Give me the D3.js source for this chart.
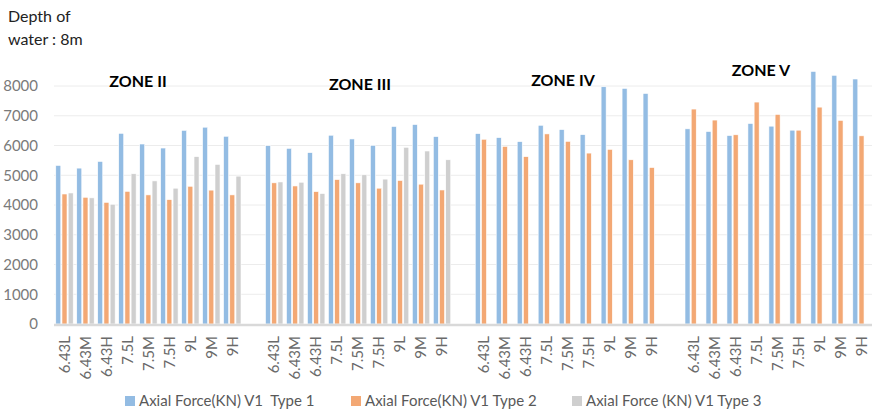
<!DOCTYPE html>
<html>
<head>
<meta charset="utf-8">
<script src="https://cdn.jsdelivr.net/npm/d3@7"></script>
<style>
  html, body { margin: 0; padding: 0; background: #fff; }
  svg { display: block; font-family: Lato, "Open Sans", sans-serif; }
  text { white-space: pre; }
</style>
</head>
<body>
<svg id="chart" width="872" height="412"></svg>
<script>
// zones and model names per zone
const zones = ['ZONE II', 'ZONE III', 'ZONE IV', 'ZONE V'];
const models = ['6.43L', '6.43M', '6.43H', '7.5L', '7.5M', '7.5H', '9L', '9M', '9H'];
const yTicks = [0, 1000, 2000, 3000, 4000, 5000, 6000, 7000, 8000];

// Axial force values, one row per zone (kN)
const type1 = [
  [5330, 5240, 5465, 6410, 6050, 5915, 6510, 6615, 6310],
  [5995, 5905, 5760, 6345, 6220, 6005, 6640, 6705, 6300],
  [6400, 6265, 6130, 6680, 6535, 6365, 7975, 7920, 7750],
  [6560, 6470, 6335, 6740, 6650, 6515, 8490, 8360, 8235]
];
const type2 = [
  [4370, 4260, 4090, 4460, 4340, 4180, 4630, 4500, 4340],
  [4745, 4640, 4450, 4855, 4745, 4565, 4825, 4700, 4505],
  [6210, 5970, 5625, 6390, 6140, 5745, 5870, 5520, 5260],
  [7225, 6855, 6360, 7460, 7045, 6515, 7290, 6845, 6325]
];
const type3 = [
  [4405, 4240, 4025, 5050, 4810, 4565, 5625, 5365, 4970],
  [4775, 4765, 4385, 5050, 5015, 4870, 5940, 5815, 5520],
  null,
  null
];

const seriesNames = ['Axial Force(KN) V1  Type 1', 'Axial Force(KN) V1 Type 2', 'Axial Force (KN) V1 Type 3'];
const seriesColors = ['#93bce3', '#f3a874', '#cfcfcf'];

// flatten into slots, with an empty slot between zones
const slots = [];
zones.forEach((z, zi) => {
  models.forEach((m, mi) => {
    slots.push({
      id: `${zi}-${mi}`, label: m, zone: zi,
      values: [type1[zi][mi], type2[zi][mi], type3[zi] ? type3[zi][mi] : null]
    });
  });
  if (zi < zones.length - 1) slots.push({ id: `gap-${zi}`, label: '', zone: zi, values: [] });
});

const svg = d3.select('#chart');
const plotLeft = 54, plotRight = 872, plotTop = 86, plotBottom = 324;

const x = d3.scaleBand().domain(slots.map(s => s.id)).range([plotLeft, plotRight]).padding(0);
const xs = d3.scaleBand().domain([0, 1, 2]).range([0, x.bandwidth()])
  .paddingInner(0.19).paddingOuter(0.285);
const y = d3.scaleLinear().domain([0, 8000]).range([plotBottom, plotTop]);

// gridlines
svg.append('g')
  .selectAll('line')
  .data(yTicks.filter(t => t > 0))
  .join('line')
  .attr('x1', plotLeft).attr('x2', plotRight)
  .attr('y1', d => y(d)).attr('y2', d => y(d))
  .attr('stroke', '#ececec').attr('stroke-width', 1);

// y axis labels
const yAxis = svg.append('g')
  .attr('transform', 'translate(38,0)')
  .call(d3.axisLeft(y).tickValues(yTicks).tickFormat(d3.format('d')).tickSize(0).tickPadding(0));
yAxis.select('.domain').remove();
yAxis.selectAll('text')
  .attr('fill', '#7a7a7a').attr('font-size', 15).attr('font-family', 'Lato, sans-serif');

// bars
const groups = svg.append('g')
  .selectAll('g')
  .data(slots.filter(s => s.values.length))
  .join('g')
  .attr('transform', d => `translate(${x(d.id)},0)`);

groups.selectAll('rect')
  .data(d => d.values.map((v, i) => ({ v, i })).filter(e => e.v != null))
  .join('rect')
  .attr('x', d => xs(d.i))
  .attr('width', xs.bandwidth())
  .attr('y', d => y(d.v))
  .attr('height', d => y(0) - y(d.v))
  .attr('fill', d => seriesColors[d.i])
  .attr('stroke', '#ffffff').attr('stroke-width', 0.6);

// baseline
svg.append('line')
  .attr('x1', plotLeft).attr('x2', plotRight)
  .attr('y1', plotBottom + 1).attr('y2', plotBottom + 1)
  .attr('stroke', '#d9d9d9').attr('stroke-width', 2.5);

// x labels, rotated
const xAxis = svg.append('g')
  .attr('transform', `translate(0,${plotBottom + 12})`)
  .call(d3.axisBottom(x).tickSize(0).tickFormat(id => slots.find(s => s.id === id).label));
xAxis.select('.domain').remove();
xAxis.selectAll('text')
  .attr('transform', 'rotate(-90)')
  .attr('x', 0).attr('y', 0).attr('dy', '0.35em')
  .attr('text-anchor', 'end')
  .attr('fill', '#6a6a6a').attr('font-size', 15).attr('font-family', 'Lato, sans-serif');

// zone titles (text boxes placed above each group)
const zoneLabelPos = [[138, 87], [360, 90], [563, 86], [761, 76]];
svg.append('g')
  .selectAll('text')
  .data(zones)
  .join('text')
  .attr('x', (d, i) => zoneLabelPos[i][0])
  .attr('y', (d, i) => zoneLabelPos[i][1])
  .attr('text-anchor', 'middle')
  .attr('font-size', 16).attr('font-weight', 'bold').attr('fill', '#000')
  .text(d => d);

// chart title
const title = svg.append('text').attr('x', 8).attr('font-size', 16).attr('fill', '#222');
title.append('tspan').attr('x', 8).attr('y', 22).text('Depth of');
title.append('tspan').attr('x', 8).attr('y', 45).text('water : 8m');

// legend
const legendX = [125, 351, 572];
const legend = svg.append('g')
  .selectAll('g')
  .data(seriesNames)
  .join('g')
  .attr('transform', (d, i) => `translate(${legendX[i]},396)`);
legend.append('rect').attr('width', 10).attr('height', 10).attr('fill', (d, i) => seriesColors[i]);
legend.append('text').attr('x', 14).attr('y', 10)
  .attr('font-size', 15).attr('fill', '#595959')
  .text(d => d);
</script>
</body>
</html>
